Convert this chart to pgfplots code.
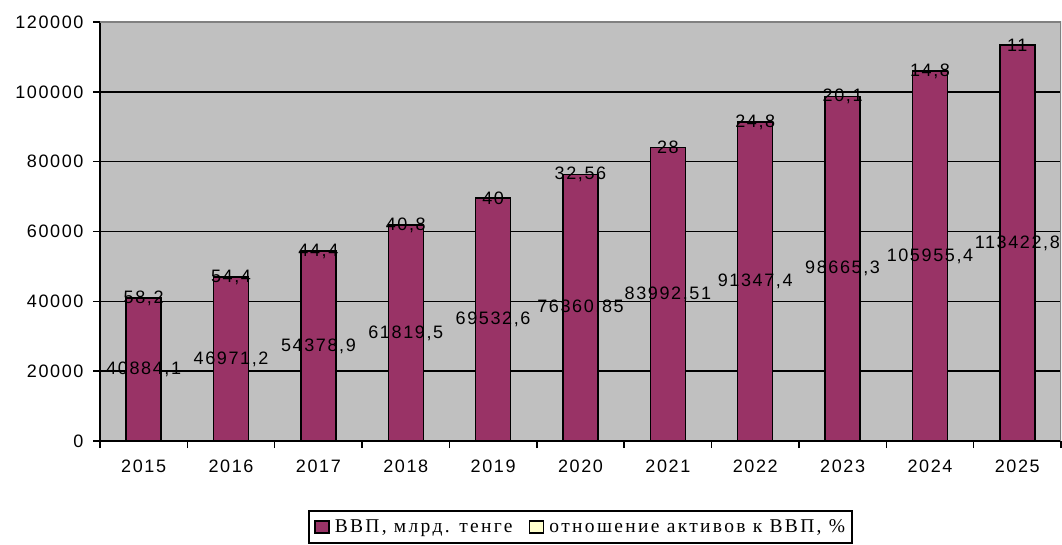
\documentclass[border=0pt]{standalone}
\usepackage{pgfplots}
\pgfplotsset{compat=1.18}
\usepackage{pgfplotstable}
\usepackage{fontspec}
\setmainfont{Liberation Sans}
\newfontfamily\tickfont[LetterSpace=9]{Liberation Sans}
\newfontfamily\legfont[LetterSpace=12]{Liberation Serif}
\definecolor{plotbg}{HTML}{C0C0C0}
\definecolor{barcol}{HTML}{993366}
\definecolor{lyel}{HTML}{FFFFCC}
\definecolor{bord}{HTML}{808080}

\pgfplotstableread{
x gdp half glab rlab
0 40884.1 20442.05 40884,1 58,2
1 46971.2 23485.6 46971,2 54,4
2 54378.9 27189.45 54378,9 44,4
3 61819.5 30909.75 61819,5 40,8
4 69532.6 34766.3 69532,6 40
5 76360.85 38180.425 76360,85 32,56
6 83992.51 41996.255 83992,51 28
7 91347.4 45673.7 91347,4 24,8
8 98665.3 49332.65 98665,3 20,1
9 105955.4 52977.7 105955,4 14,8
10 113422.8 56711.4 113422,8 11
}\data

\begin{document}
\begin{tikzpicture}
\begin{axis}[
  scale only axis, width=961pt, height=419pt,
  xmin=-0.5, xmax=10.5, ymin=0, ymax=120000,
  axis background/.style={fill=plotbg},
  axis x line*=bottom, axis y line*=left,
  axis line style={black, line width=2pt, -},
  xtick={0,...,10},
  xticklabels={2015,2016,2017,2018,2019,2020,2021,2022,2023,2024,2025},
  major x tick style={draw=none},
  minor xtick={-0.5,0.5,...,10.5},
  tick align=outside, major tick length=7pt, minor tick length=7pt,
  tick style={black, line width=1.5pt},
  ytick={0,20000,40000,60000,80000,100000},
  yticklabels={0,20000,40000,60000,80000,100000},
  extra y ticks={120000}, extra y tick labels={120000},
  extra y tick style={grid=none},
  ymajorgrids, major grid style={black, line width=1.5pt},
  scaled y ticks=false,
  ticklabel style={font=\tickfont\fontsize{18}{18}\selectfont, text=black},
  yticklabel style={xshift=-6pt},
  xticklabel style={yshift=-8pt},
  legend image code/.code={\draw[#1, draw=black, line width=1.8pt] (0pt,-6pt) rectangle (14pt,6pt);},
  legend style={at={(0.5,-0.1647)}, anchor=north, draw=black, line width=2pt,
    font=\legfont\fontsize{19.5}{24}\selectfont, legend columns=2,
    /tikz/every odd column/.append style={column sep=3pt},
    /tikz/every even column/.append style={column sep=14pt},
    inner xsep=5pt, inner ysep=7pt},
]
\draw[bord, line width=1.5pt] (rel axis cs:0,1) -- (rel axis cs:1,1) -- (rel axis cs:1,0);
\addplot[ybar, bar width=35pt, fill=barcol, draw=black, line width=1.5pt, forget plot]
  table[x=x, y=gdp]{\data};
\addplot[only marks, mark=none, forget plot, nodes near coords, point meta=explicit symbolic,
  nodes near coords style={anchor=center, font=\tickfont\fontsize{18}{18}\selectfont, text=black, inner sep=0pt}]
  table[x=x, y=half, meta=glab]{\data};
\addplot[only marks, mark=none, forget plot, nodes near coords, point meta=explicit symbolic,
  nodes near coords style={anchor=center, font=\tickfont\fontsize{18}{18}\selectfont, text=black, inner sep=0pt}]
  table[x=x, y=gdp, meta=rlab]{\data};
\addlegendimage{fill=barcol}
\addlegendentry{ВВП, млрд. тенге}
\addlegendimage{fill=lyel}
\addlegendentry{отношение активов к ВВП, \%}
\coordinate (LL) at (rel axis cs:0,0);
\coordinate (UR) at (rel axis cs:1,1);
\end{axis}
\pgfresetboundingbox
\path ([shift={(-100pt,-103pt)}]LL) rectangle ([shift={(1pt,22pt)}]UR);
\end{tikzpicture}
\end{document}
